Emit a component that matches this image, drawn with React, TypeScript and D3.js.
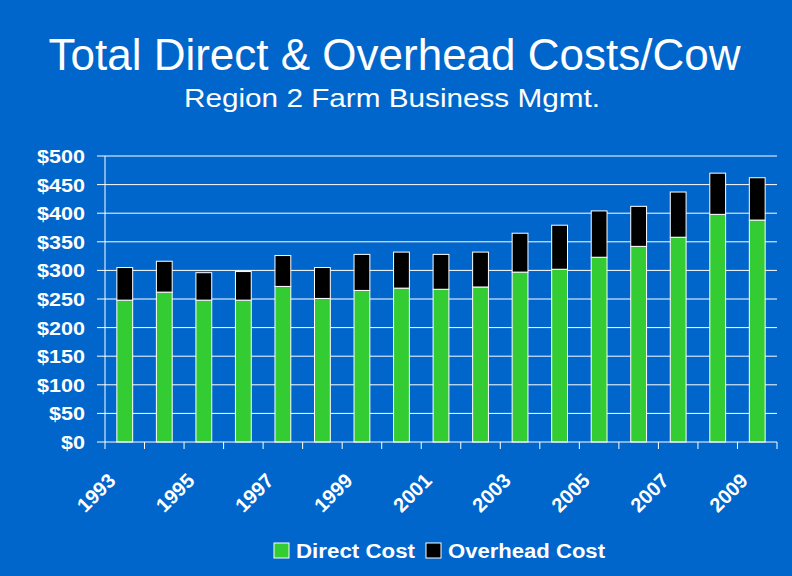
import * as d3 from 'd3';

const YEARS = [1993, 1994, 1995, 1996, 1997, 1998, 1999, 2000, 2001, 2002, 2003, 2004, 2005, 2006, 2007, 2008, 2009];
const DIRECT = [248, 262, 248, 248, 272, 251, 265, 269, 267, 271, 297, 302, 323, 342, 358, 398, 388];
const OVERHEAD = [57, 54, 48, 50, 54, 54, 63, 63, 61, 61, 68, 77, 81, 70, 79, 72, 74];
const Y_TICKS = [0, 50, 100, 150, 200, 250, 300, 350, 400, 450, 500];
const YEAR_LABELS = [1993, 1995, 1997, 1999, 2001, 2003, 2005, 2007, 2009];
const SERIES = [
  { key: 'direct', label: 'Direct Cost', color: '#33cc33' },
  { key: 'overhead', label: 'Overhead Cost', color: '#000000' },
];

const W = 792;
const H = 576;
const BG = '#0066cc';
const FONT = '"Liberation Sans", Arial, Helvetica, sans-serif';

export default function App() {
  const left = 105;
  const right = 777;
  const top = 156;
  const bottom = 442;

  const x = d3.scaleBand<number>().domain(YEARS).range([left, right]).paddingInner(0.6).paddingOuter(0.3);
  const y = d3.scaleLinear().domain([0, 500]).range([bottom, top]);

  const rows = YEARS.map((year, i) => ({ year, direct: DIRECT[i], overhead: OVERHEAD[i] }));
  const stacked = d3.stack<any>().keys(SERIES.map(s => s.key))(rows);

  // category boundaries for the x tick marks
  const step = x.step();
  const xTicks = YEARS.map(yr => x(yr)! - (step * x.paddingInner()) / 2).concat([right]);

  const legendItems = [
    { ...SERIES[0], box: 274, text: 296, width: 119 },
    { ...SERIES[1], box: 426, text: 448, width: 157 },
  ];

  return (
    <svg width={W} height={H} style={{ position: 'absolute', left: 0, top: 0 }} fontFamily={FONT}>
      <rect width={W} height={H} fill={BG} />

      <text x={394.5} y={70} fill="#fff" fontSize={44} textAnchor="middle">
        Total Direct &amp; Overhead Costs/Cow
      </text>
      <text x={184} y={107} fill="#fff" fontSize={26} textLength={416} lengthAdjust="spacingAndGlyphs">
        Region 2 Farm Business Mgmt.
      </text>

      {/* grid + y ticks */}
      {Y_TICKS.map(t => (
        <g key={t}>
          {t > 0 && <line x1={left} x2={right} y1={y(t)} y2={y(t)} stroke="#fff" strokeWidth={1} />}
          <line x1={97} x2={left} y1={y(t)} y2={y(t)} stroke="#fff" strokeWidth={1} />
          <text
            x={85}
            y={y(t) + 7}
            fill="#fff"
            fontSize={18}
            fontWeight="bold"
            textAnchor="end"
            textLength={12 * (`$${t}`).length}
            lengthAdjust="spacingAndGlyphs"
          >
            {`$${t}`}
          </text>
        </g>
      ))}

      {/* bars */}
      {stacked.map((layer, si) => (
        <g key={layer.key} fill={SERIES[si].color} stroke="#fff" strokeWidth={1}>
          {layer.map((d, i) => (
            <rect
              key={YEARS[i]}
              x={x(YEARS[i])}
              width={x.bandwidth()}
              y={y(d[1])}
              height={y(d[0]) - y(d[1])}
            />
          ))}
        </g>
      ))}

      {/* axes */}
      <line x1={left} x2={left} y1={top} y2={bottom} stroke="#fff" strokeWidth={1} />
      <line x1={left} x2={right} y1={bottom} y2={bottom} stroke="#fff" strokeWidth={1} />
      {xTicks.map((tx, i) => (
        <line key={i} x1={tx} x2={tx} y1={bottom} y2={bottom + 7} stroke="#fff" strokeWidth={1} />
      ))}

      {YEAR_LABELS.map(yr => {
        const cx = x(yr)! + x.bandwidth() / 2 - 8;
        const cy = 482;
        return (
          <text
            key={yr}
            transform={`translate(${cx},${cy}) rotate(-45)`}
            fill="#fff"
            fontSize={20}
            fontWeight="bold"
            textAnchor="end"
          >
            {yr}
          </text>
        );
      })}

      {/* legend */}
      {legendItems.map(item => (
        <g key={item.key}>
          <rect x={item.box} y={543} width={15} height={15} fill={item.color} stroke="#fff" strokeWidth={1} />
          <text
            x={item.text}
            y={558}
            fill="#fff"
            fontSize={20}
            fontWeight="bold"
            textLength={item.width}
            lengthAdjust="spacingAndGlyphs"
          >
            {item.label}
          </text>
        </g>
      ))}
    </svg>
  );
}
